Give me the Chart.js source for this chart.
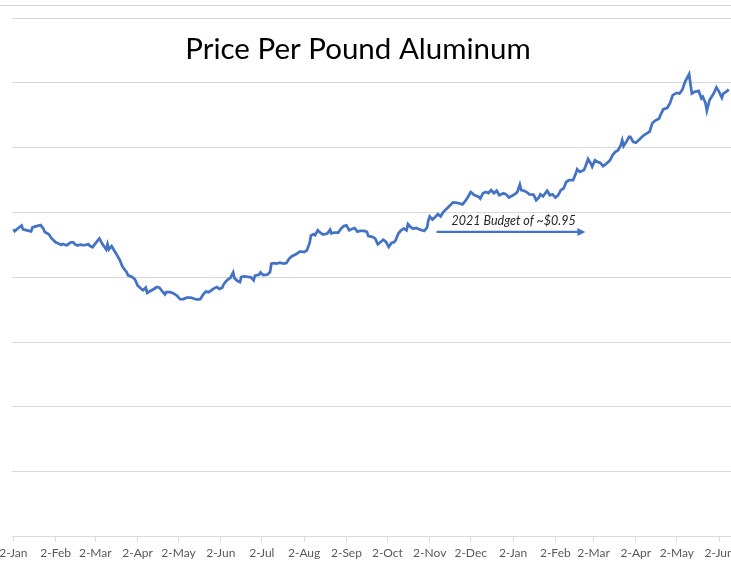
<!DOCTYPE html>
<html>
<head>
<meta charset="utf-8">
<title>Price Per Pound Aluminum</title>
<script src="https://cdn.jsdelivr.net/npm/chart.js@4.4.1/dist/chart.umd.min.js"></script>
<style>
  html, body { margin: 0; padding: 0; background: #fff; overflow: hidden; }
  body { width: 731px; height: 561px; position: relative; }
  .edge { position: absolute; left: 0; top: 5px; width: 731px; height: 1px; background: #d9d9d9; }
  .wrap { position: absolute; left: -40px; top: 0; width: 796px; height: 566px; }
</style>
</head>
<body>
<div class="edge"></div>
<div class="wrap"><canvas id="aluminio"></canvas></div>
<script>
// day 0 = 1-Jan-2020
const days = [1,2,4,7,8,11,14,15,18,21,23,24,27,29,32,34,36,37,40,41,43,45,46,48,50,52,54,56,57,59,
  61,64,66,68,69,70,71,73,74,76,79,81,84,85,88,90,92,94,96,98,99,101,104,106,108,110,112,113,116,118,
  121,123,125,128,131,134,136,138,140,142,144,146,148,150,152,154,155,157,159,160,162,163,165,167,168,170,173,175,177,178,
  181,182,184,187,189,190,192,194,196,199,201,203,204,205,208,211,214,216,218,219,221,222,224,226,228,231,233,234,236,239,
  241,243,245,247,249,251,253,255,258,260,261,264,266,268,270,272,274,276,278,280,281,283,285,287,289,290,292,294,296,299,
  302,304,305,306,308,310,312,314,316,319,321,323,326,330,332,334,336,338,339,342,343,345,347,349,351,353,355,357,360,362,
  364,367,370,372,373,375,377,379,382,384,386,387,389,392,394,396,398,400,402,404,406,408,411,413,414,416,419,420,422,424,
  425,427,429,431,433,435,438,440,442,444,446,447,448,450,452,453,455,457,459,461,463,465,467,469,471,474,475,477,480,482,
  484,487,489,491,493,496,497,498,500,503,505,506,508,509,511,514,516,518,520,521,524,525]
const prices = [0.948,0.942,0.950,0.960,0.948,0.945,0.942,0.954,0.958,0.961,0.950,0.940,0.933,0.920,0.908,0.904,0.900,0.903,0.899,0.901,0.908,0.908,0.902,0.898,0.901,0.899,0.900,0.902,0.897,0.893,
  0.904,0.920,0.904,0.892,0.886,0.902,0.886,0.896,0.889,0.875,0.853,0.832,0.816,0.806,0.801,0.794,0.775,0.767,0.760,0.768,0.752,0.757,0.764,0.770,0.768,0.757,0.747,0.754,0.754,0.751,
  0.743,0.733,0.732,0.737,0.737,0.733,0.731,0.733,0.747,0.756,0.754,0.760,0.766,0.770,0.764,0.768,0.778,0.789,0.796,0.798,0.815,0.797,0.789,0.785,0.801,0.803,0.801,0.800,0.791,0.805,
  0.808,0.815,0.807,0.808,0.816,0.842,0.844,0.842,0.845,0.842,0.844,0.857,0.861,0.865,0.871,0.880,0.878,0.883,0.906,0.929,0.933,0.930,0.945,0.937,0.932,0.935,0.947,0.935,0.938,0.938,
  0.950,0.958,0.960,0.945,0.949,0.952,0.941,0.943,0.943,0.940,0.927,0.925,0.920,0.902,0.909,0.916,0.909,0.894,0.906,0.909,0.914,0.935,0.945,0.950,0.945,0.964,0.955,0.950,0.952,0.947,
  0.943,0.953,0.976,0.988,0.978,0.986,0.995,0.988,1.002,1.014,1.022,1.031,1.030,1.025,1.035,1.048,1.063,1.056,1.053,1.048,1.043,1.059,1.063,1.060,1.069,1.059,1.067,1.053,1.059,1.056,
  1.046,1.053,1.062,1.086,1.069,1.067,1.063,1.056,1.055,1.038,1.046,1.056,1.050,1.067,1.053,1.056,1.046,1.053,1.069,1.074,1.094,1.100,1.100,1.120,1.133,1.125,1.131,1.141,1.165,1.151,
  1.141,1.161,1.156,1.153,1.143,1.149,1.161,1.177,1.187,1.192,1.208,1.223,1.205,1.218,1.233,1.233,1.218,1.215,1.223,1.231,1.239,1.244,1.249,1.275,1.283,1.290,1.300,1.318,1.323,1.337,
  1.362,1.369,1.367,1.378,1.403,1.427,1.396,1.367,1.372,1.375,1.352,1.357,1.338,1.314,1.347,1.367,1.386,1.372,1.354,1.367,1.375,1.380]

const tickDays = [1,32,61,92,122,153,183,214,245,275,306,336,367,398,426,457,487,518]
const tickLabels = ['2-Jan','2-Feb','2-Mar','2-Apr','2-May','2-Jun','2-Jul','2-Aug','2-Sep','2-Oct','2-Nov','2-Dec',
  '2-Jan','2-Feb','2-Mar','2-Apr','2-May','2-Jun']

const titleText = 'Price Per Pound Aluminum'
const budgetText = '2021 Budget of ~$0.95'
const budgetLine = 0.94
const budgetFrom = 311
const budgetTo = 420
const budgetLabelAt = 322

const overlay = {
  id: 'overlay',
  afterDatasetsDraw(chart) {
    const ctx = chart.ctx
    const x = chart.scales.x
    const y = chart.scales.y
    ctx.save()
    // title sits inside the plot, like the original
    ctx.font = '29.5px Lato'
    ctx.fillStyle = '#000000'
    ctx.textAlign = 'center'
    ctx.textBaseline = 'middle'
    ctx.fillText(titleText, chart.width / 2, 49)

    // budget arrow
    const x0 = x.getPixelForValue(budgetFrom)
    const x1 = x.getPixelForValue(budgetTo)
    const yy = y.getPixelForValue(budgetLine)
    ctx.strokeStyle = '#4472C4'
    ctx.fillStyle = '#4472C4'
    ctx.lineWidth = 2.25
    ctx.beginPath()
    ctx.moveTo(x0, yy)
    ctx.lineTo(x1 - 6, yy)
    ctx.stroke()
    ctx.beginPath()
    ctx.moveTo(x1, yy)
    ctx.lineTo(x1 - 8, yy - 4)
    ctx.lineTo(x1 - 8, yy + 4)
    ctx.closePath()
    ctx.fill()

    ctx.font = 'italic 12.5px Lato'
    ctx.fillStyle = '#262626'
    ctx.textAlign = 'left'
    ctx.textBaseline = 'middle'
    ctx.fillText(budgetText, x.getPixelForValue(budgetLabelAt), yy - 11)
    ctx.restore()
  }
}

Chart.defaults.font.family = 'Lato'

new Chart(document.getElementById('aluminio'), {
  type: 'line',
  data: {
    datasets: [{
      label: 'Aluminum',
      data: days.map((d, i) => ({ x: d, y: prices[i] })),
      borderColor: '#4472C4',
      borderWidth: 2.75,
      pointRadius: 0,
      tension: 0,
      fill: false
    }]
  },
  options: {
    responsive: true,
    maintainAspectRatio: false,
    animation: false,
    layout: { padding: { left: 52, right: 0, top: 18, bottom: 2 } },
    plugins: {
      legend: { display: false },
      title: { display: false },
      tooltip: { enabled: false }
    },
    scales: {
      x: {
        type: 'linear',
        min: 0,
        max: 545,
        afterBuildTicks: (scale) => {
          scale.ticks = tickDays.map(v => ({ value: v }))
        },
        ticks: {
          autoSkip: false,
          maxRotation: 0,
          padding: 4,
          color: '#595959',
          font: { size: 12 },
          callback: (value, index) => tickLabels[index]
        },
        grid: {
          drawOnChartArea: false,
          drawTicks: true,
          tickLength: 5,
          color: '#d9d9d9'
        },
        border: { color: '#d9d9d9', width: 1 }
      },
      y: {
        min: 0,
        max: 1.6,
        ticks: { display: false, stepSize: 0.2 },
        grid: { color: '#d9d9d9', drawTicks: false },
        border: { display: false }
      }
    }
  },
  plugins: [overlay]
})
</script>
</body>
</html>
